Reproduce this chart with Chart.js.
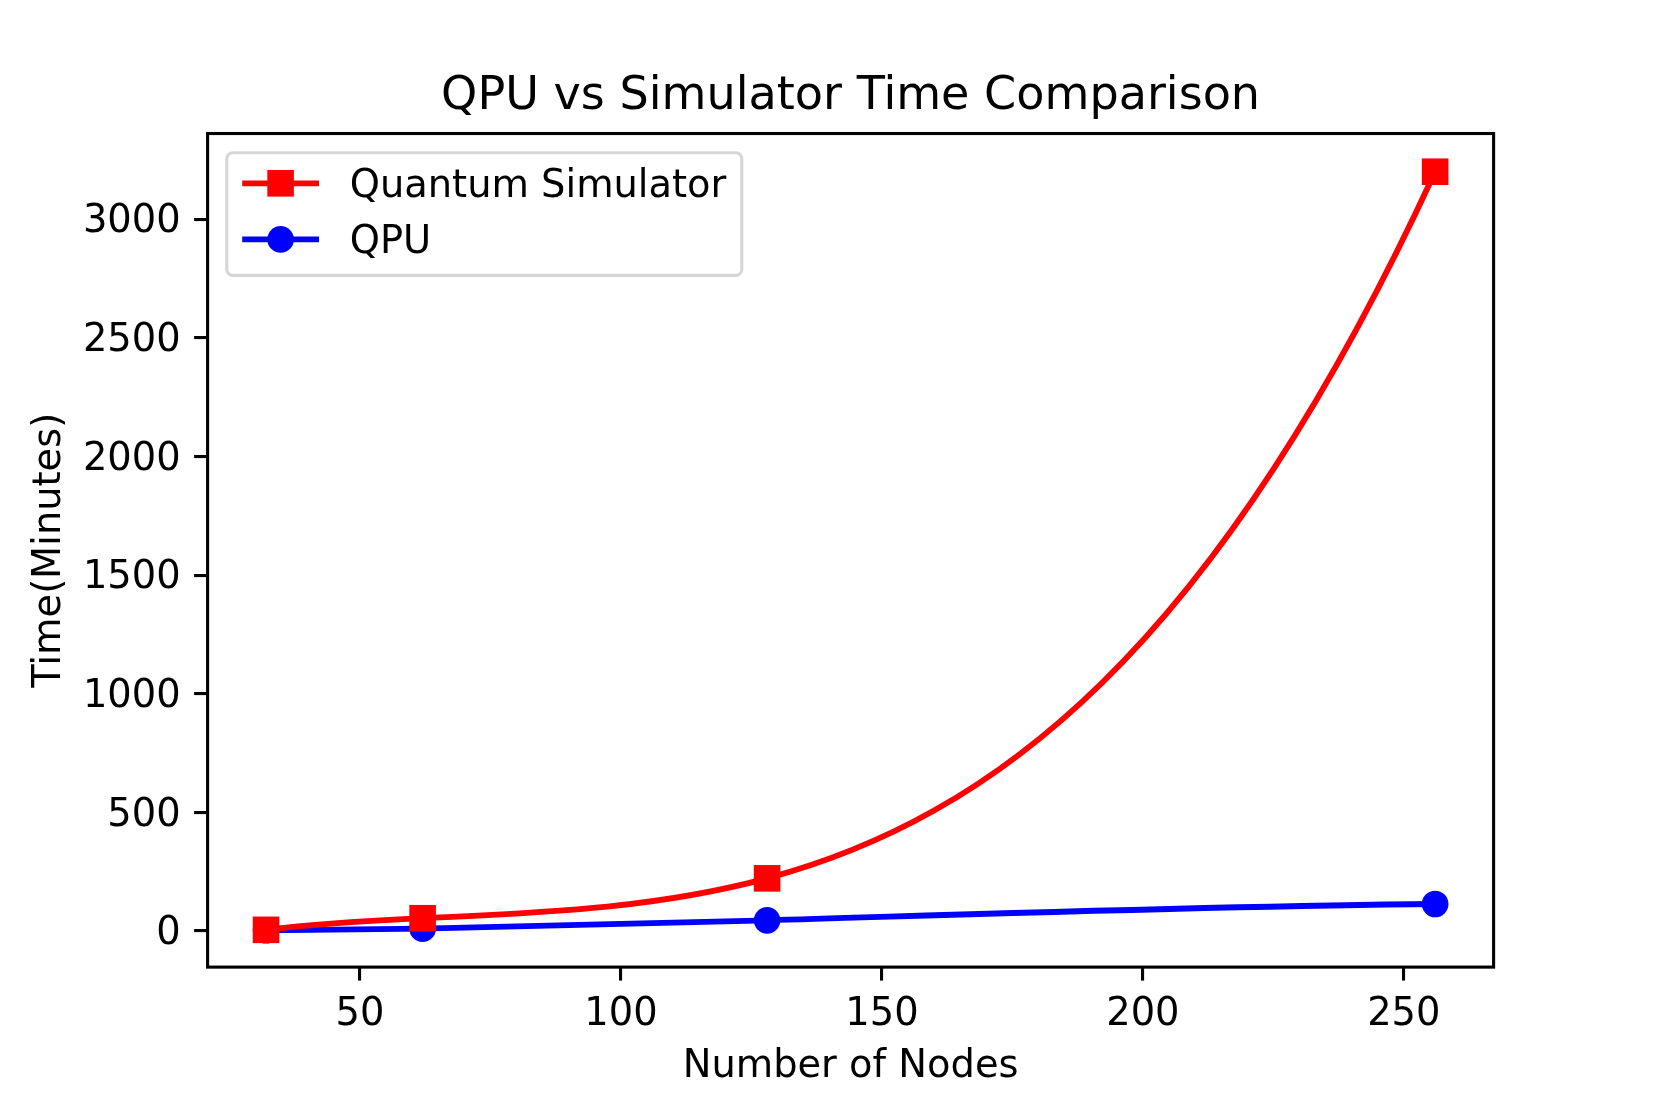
<!DOCTYPE html>
<html>
<head>
<meta charset="utf-8">
<script src="https://cdn.jsdelivr.net/npm/chart.js@4.4.1/dist/chart.umd.min.js"></script>
<style>
  html, body { margin: 0; padding: 0; background: #ffffff; }
  #wrap { width: 1661px; height: 1107px; }
</style>
</head>
<body>
<div id="wrap"><canvas id="c" width="1661" height="1107"></canvas></div>
<script>
// ---- data ----
const nodes = [32, 62, 128, 256];
const simulatorTime = [5, 54, 222, 3200];
const qpuTime = [3, 10, 45, 114];
const xTickValues = [50, 100, 150, 200, 250];
const yTickValues = [0, 500, 1000, 1500, 2000, 2500, 3000];
const seriesLabels = ['Quantum Simulator', 'QPU'];

// ---- styling ----
const FONT = '"DejaVu Sans", "Liberation Sans", sans-serif';
const TICK_FS = 38.4;
const TITLE_FS = 46.1;
const AX_LW = 3.1;

Chart.defaults.font.family = FONT;
Chart.defaults.color = '#000000';

// slopes of the interpolating cubic through the data nodes (used as curve tangents)
function nodeSlopes(xs, ys) {
  const n = xs.length;
  return xs.map((xj) => {
    let s = 0;
    for (let i = 0; i < n; i++) {
      let d = 0;
      for (let m = 0; m < n; m++) {
        if (m === i) continue;
        let p = 1 / (xs[i] - xs[m]);
        for (let k = 0; k < n; k++) {
          if (k === i || k === m) continue;
          p *= (xj - xs[k]) / (xs[i] - xs[k]);
        }
        d += p;
      }
      s += ys[i] * d;
    }
    return s;
  });
}

const cubicTangentPlugin = {
  id: 'cubicTangents',
  beforeDatasetDraw(chart, args) {
    const meta = args.meta;
    const line = meta.dataset;
    if (!line || !meta.data.length) return;
    if (line.updateControlPoints) line.updateControlPoints(chart.chartArea, 'x');
    const xs = chart.scales.x, ys = chart.scales.y;
    const ds = chart.data.datasets[args.index];
    const dx = ds.data.map(p => p.x), dy = ds.data.map(p => p.y);
    const slopes = nodeSlopes(dx, dy);
    const sx = xs.getPixelForValue(1) - xs.getPixelForValue(0);
    const sy = ys.getPixelForValue(1) - ys.getPixelForValue(0);
    const pts = meta.data;
    const n = pts.length;
    for (let j = 0; j < n; j++) {
      const mp = slopes[j] * sy / sx;
      const p = pts[j];
      if (j > 0) {
        const h = p.x - pts[j - 1].x;
        p.cp1x = p.x - h / 3;
        p.cp1y = p.y - mp * h / 3;
      } else { p.cp1x = p.x; p.cp1y = p.y; }
      if (j < n - 1) {
        const h = pts[j + 1].x - p.x;
        p.cp2x = p.x + h / 3;
        p.cp2y = p.y + mp * h / 3;
      } else { p.cp2x = p.x; p.cp2y = p.y; }
    }
    line._pointsUpdated = true;
    delete line._path;
  }
};

const framePlugin = {
  id: 'axesFrame',
  afterDatasetsDraw(chart) {
    const { ctx, chartArea: a } = chart;
    ctx.save();
    ctx.strokeStyle = '#000000';
    ctx.lineWidth = AX_LW;
    ctx.strokeRect(a.left, a.top, a.right - a.left, a.bottom - a.top);
    ctx.restore();
  }
};

const legendPlugin = {
  id: 'mplLegend',
  afterDraw(chart) {
    const { ctx, chartArea } = chart;
    const fs = TICK_FS;
    const left = chartArea.left + 19.2, top = chartArea.top + 19.2;
    const pad = 15.4, handleLen = 76.8, textPad = 30.7;
    ctx.save();
    ctx.font = fs + 'px ' + FONT;
    const tw = Math.max(...chart.data.datasets.map(d => ctx.measureText(d.label).width));
    const w = pad + handleLen + textPad + tw + pad;
    const h = 122.7;
    ctx.beginPath();
    if (ctx.roundRect) ctx.roundRect(left, top, w, h, 6); else ctx.rect(left, top, w, h);
    ctx.fillStyle = 'rgba(255,255,255,0.8)';
    ctx.fill();
    ctx.lineWidth = 3.1;
    ctx.strokeStyle = 'rgba(204,204,204,0.8)';
    ctx.stroke();
    chart.data.datasets.forEach((ds, i) => {
      const cy = top + 30.6 + i * 56.1;
      const hx0 = left + pad, hx1 = hx0 + handleLen, cx = (hx0 + hx1) / 2;
      ctx.beginPath();
      ctx.moveTo(hx0, cy); ctx.lineTo(hx1, cy);
      ctx.strokeStyle = ds.borderColor; ctx.lineWidth = ds.borderWidth;
      ctx.stroke();
      ctx.fillStyle = ds.pointBackgroundColor;
      ctx.beginPath();
      if (ds.pointStyle === 'rect') {
        const s = ds.pointRadius * Math.SQRT1_2;
        ctx.rect(cx - s, cy - s, 2 * s, 2 * s);
      } else {
        ctx.arc(cx, cy, ds.pointRadius, 0, Math.PI * 2);
      }
      ctx.fill();
      ctx.fillStyle = '#000000';
      ctx.textAlign = 'left';
      ctx.textBaseline = 'alphabetic';
      ctx.fillText(ds.label, hx1 + textPad, cy + 13.2);
    });
    ctx.restore();
  }
};

const toXY = (ys) => nodes.map((x, i) => ({ x: x, y: ys[i] }));

const tickFont = { family: FONT, size: TICK_FS, weight: 'normal' };

new Chart(document.getElementById('c'), {
  type: 'line',
  data: {
    datasets: [
      {
        label: seriesLabels[0],
        data: toXY(simulatorTime),
        borderColor: '#ff0000',
        backgroundColor: '#ff0000',
        pointBackgroundColor: '#ff0000',
        pointBorderWidth: 0,
        pointStyle: 'rect',
        pointRadius: 18.8,
        borderWidth: 5.8,
        tension: 0.4,
        fill: false,
        clip: false
      },
      {
        label: seriesLabels[1],
        data: toXY(qpuTime),
        borderColor: '#0000ff',
        backgroundColor: '#0000ff',
        pointBackgroundColor: '#0000ff',
        pointBorderWidth: 0,
        pointStyle: 'circle',
        pointRadius: 13.3,
        borderWidth: 5.8,
        tension: 0.4,
        fill: false,
        clip: false
      }
    ]
  },
  options: {
    responsive: false,
    animation: false,
    devicePixelRatio: 1,
    events: [],
    layout: { padding: { left: 0, right: 167.4, top: 0, bottom: 0 } },
    plugins: {
      legend: { display: false },
      tooltip: { enabled: false },
      title: {
        display: true,
        fullSize: false,
        text: 'QPU vs Simulator Time Comparison',
        color: '#000000',
        font: { family: FONT, size: TITLE_FS, weight: 'normal' },
        padding: { top: 69.5, bottom: 8.7 }
      }
    },
    scales: {
      x: {
        type: 'linear',
        min: 20.8,
        max: 267.2,
        afterFit(s) { s.height = 139.9; },
        afterBuildTicks(s) { s.ticks = xTickValues.map(v => ({ value: v })); },
        grid: { drawOnChartArea: false, drawTicks: true, tickLength: 13.5, tickWidth: AX_LW, tickColor: '#000000', lineWidth: AX_LW, color: '#000000' },
        border: { display: false },
        ticks: { padding: 11.7, color: '#000000', font: tickFont, maxRotation: 0, autoSkip: false, callback: v => String(v) },
        title: { display: true, text: 'Number of Nodes', color: '#000000', font: tickFont, padding: { top: 0, bottom: 16.8 } }
      },
      y: {
        type: 'linear',
        min: -152,
        max: 3361,
        afterFit(s) { s.width = 207.6; },
        afterBuildTicks(s) { s.ticks = yTickValues.map(v => ({ value: v })); },
        grid: { drawOnChartArea: false, drawTicks: true, tickLength: 13.5, tickWidth: AX_LW, tickColor: '#000000', lineWidth: AX_LW, color: '#000000' },
        border: { display: false },
        ticks: { padding: 13.5, labelOffset: 3.2, color: '#000000', font: tickFont, autoSkip: false, callback: v => String(v) },
        title: { display: true, text: 'Time(Minutes)', color: '#000000', font: tickFont, padding: { top: 27, bottom: 0 } }
      }
    }
  },
  plugins: [cubicTangentPlugin, framePlugin, legendPlugin]
});
</script>
</body>
</html>
